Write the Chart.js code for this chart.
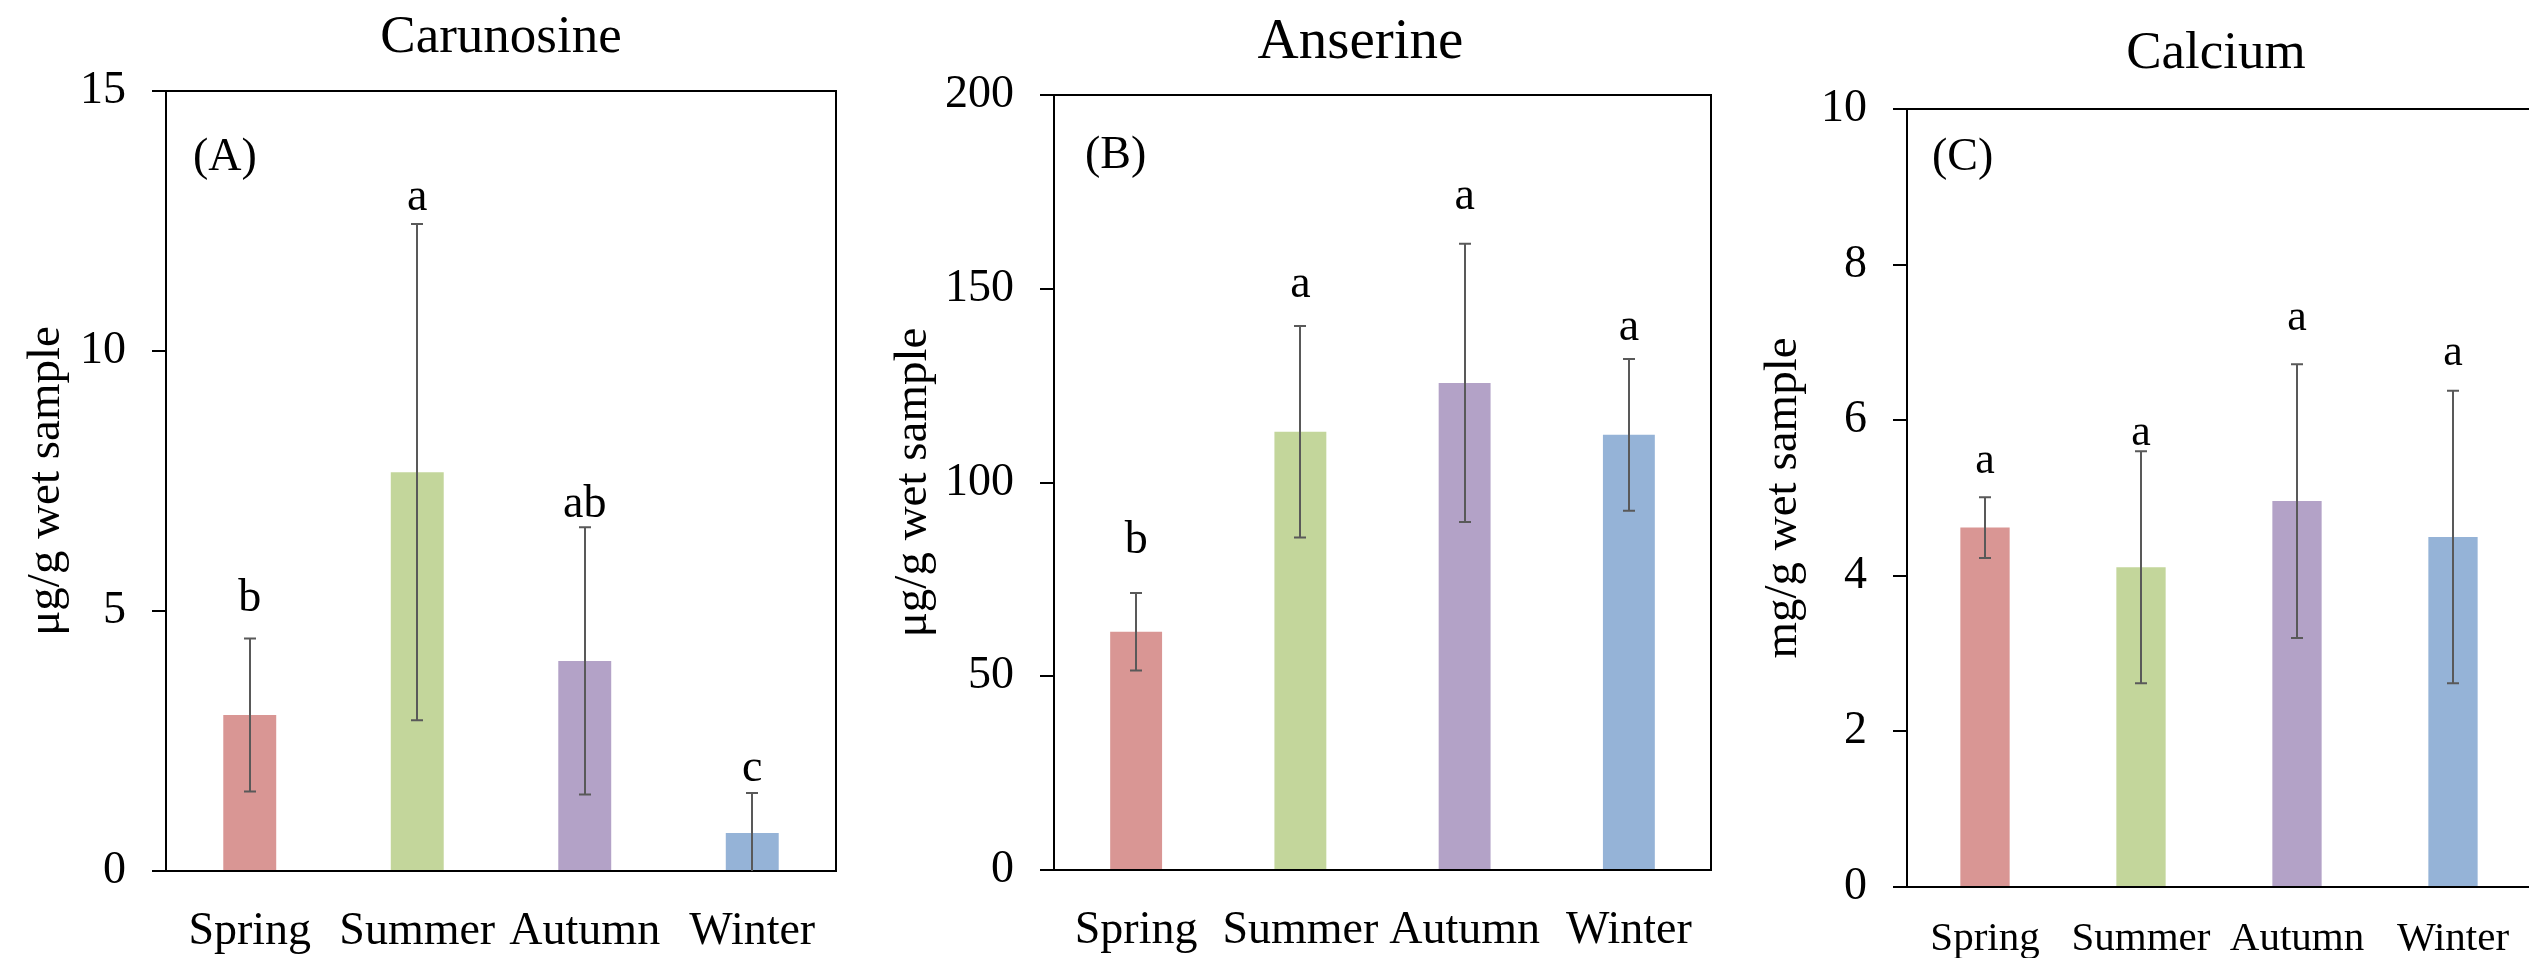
<!DOCTYPE html>
<html lang="en">
<head>
<meta charset="utf-8">
<title>Seasonal carnosine, anserine and calcium</title>
<style>
  html, body { margin: 0; padding: 0; background: #fff; overflow: hidden; }
  body { width: 2529px; height: 958px; position: relative; }
  canvas { position: absolute; top: 0; }
  #chartA { left: 0; }
  #chartB { left: 850px; }
  #chartC { left: 1730px; }
</style>
</head>
<body>
<canvas id="chartA" width="850" height="958"></canvas>
<canvas id="chartB" width="880" height="958"></canvas>
<canvas id="chartC" width="810" height="958"></canvas>

<script src="https://cdn.jsdelivr.net/npm/chart.js"></script>
<script>
// seasons and bar colours
const seasons = ["Spring", "Summer", "Autumn", "Winter"];
const seasonColors = ["#d99694", "#c3d69b", "#b3a2c7", "#95b3d7"];

// (A) carnosine, ug/g wet sample
const carnosineMean = [3.0, 7.67, 4.04, 0.73];
const carnosineSd = [1.47, 4.77, 2.57, 0.77];
const carnosineLetters = ["b", "a", "ab", "c"];
const carnosineTicks = [0, 5, 10, 15];

// (B) anserine, ug/g wet sample
const anserineMean = [61.5, 113.1, 125.7, 112.3];
const anserineSd = [10.0, 27.3, 35.9, 19.6];
const anserineLetters = ["b", "a", "a", "a"];
const anserineTicks = [0, 50, 100, 150, 200];

// (C) calcium, mg/g wet sample
const calciumMean = [4.62, 4.11, 4.96, 4.50];
const calciumSd = [0.39, 1.49, 1.76, 1.88];
const calciumLetters = ["a", "a", "a", "a"];
const calciumTicks = [0, 2, 4, 6, 8, 10];

const serif = "'Liberation Serif', 'Times New Roman', serif";
Chart.defaults.font.family = serif;
Chart.defaults.color = "#000";

function drawPanel(canvasId, p) {
  // error bars, letters, box frame, title and panel tag
  const extras = {
    id: "extras",
    afterDatasetsDraw(chart) {
      const { ctx } = chart;
      const y = chart.scales.y;
      const bars = chart.getDatasetMeta(0).data;
      ctx.save();
      ctx.strokeStyle = "#595959";
      ctx.lineWidth = 2;
      bars.forEach((bar, i) => {
        const hi = p.means[i] + p.sds[i];
        const lo = Math.max(p.means[i] - p.sds[i], y.min);
        const yHi = y.getPixelForValue(hi);
        const yLo = y.getPixelForValue(lo);
        const x = Math.round(bar.x);
        ctx.beginPath();
        ctx.moveTo(x, yHi);
        ctx.lineTo(x, yLo);
        ctx.moveTo(x - 6, yHi);
        ctx.lineTo(x + 6, yHi);
        if (lo > y.min) {
          ctx.moveTo(x - 6, yLo);
          ctx.lineTo(x + 6, yLo);
        }
        ctx.stroke();
      });

      ctx.fillStyle = "#000";
      ctx.font = p.letterSize + "px " + serif;
      ctx.textAlign = "center";
      ctx.textBaseline = "alphabetic";
      bars.forEach((bar, i) => {
        const yHi = y.getPixelForValue(p.means[i] + p.sds[i]);
        ctx.fillText(p.letters[i], bar.x, yHi - p.letterGap[i]);
      });
      ctx.restore();
    },
    afterDraw(chart) {
      const { ctx, chartArea: a } = chart;
      ctx.save();
      ctx.strokeStyle = "#000";
      ctx.lineWidth = 2;
      ctx.beginPath();
      ctx.moveTo(a.left, a.top);
      ctx.lineTo(a.right, a.top);
      ctx.lineTo(a.right, a.bottom);
      ctx.stroke();

      ctx.fillStyle = "#000";
      ctx.textBaseline = "alphabetic";
      ctx.textAlign = "center";
      ctx.font = p.titleSize + "px " + serif;
      ctx.fillText(p.title, (a.left + a.right) / 2 + p.titleDx, p.titleBaseline);

      ctx.textAlign = "left";
      ctx.font = "46px " + serif;
      ctx.fillText(p.tag, a.left + p.tagDx, a.top + p.tagDy);
      ctx.restore();
    }
  };

  return new Chart(document.getElementById(canvasId), {
    type: "bar",
    data: {
      labels: seasons,
      datasets: [{
        data: p.means,
        backgroundColor: seasonColors,
        borderWidth: 0,
        categoryPercentage: 1,
        barPercentage: 0.316
      }]
    },
    options: {
      responsive: false,
      animation: false,
      layout: { padding: p.padding },
      plugins: {
        legend: { display: false },
        tooltip: { enabled: false }
      },
      scales: {
        x: {
          z: 1,
          grid: { display: false, drawTicks: false },
          border: { display: true, color: "#000", width: 2 },
          ticks: {
            color: "#000",
            font: { family: serif, size: p.xSize },
            padding: p.xPad,
            maxRotation: 0,
            autoSkip: false
          },
          afterFit(scale) { scale.height = p.xHeight; }
        },
        y: {
          z: 1,
          min: p.ticks[0],
          max: p.ticks[p.ticks.length - 1],
          afterBuildTicks(scale) {
            scale.ticks = p.ticks.map(v => ({ value: v }));
          },
          grid: {
            drawOnChartArea: false,
            drawTicks: true,
            tickLength: 14,
            color: "#000",
            lineWidth: 2
          },
          border: { display: true, color: "#000", width: 2 },
          ticks: { color: "#000", font: { family: serif, size: 46 }, padding: 26 },
          title: {
            display: true,
            text: p.yTitle,
            color: "#000",
            font: { family: serif, size: 47 },
            padding: { top: p.yTitlePad, bottom: 0 }
          },
          afterFit(scale) { scale.width = p.yWidth; }
        }
      }
    },
    plugins: [extras]
  });
}

drawPanel("chartA", {
  means: carnosineMean, sds: carnosineSd, letters: carnosineLetters, ticks: carnosineTicks,
  title: "Carunosine", tag: "(A)", yTitle: "μg/g wet sample",
  padding: { top: 91, right: 14, bottom: 0, left: 0 },
  yWidth: 166, xHeight: 87, xSize: 46, xPad: 33, yTitlePad: 18,
  titleSize: 53, titleBaseline: 52, titleDx: 0, tagDx: 27, tagDy: 79,
  letterSize: 46, letterGap: [28, 14, 10, 12]
});

drawPanel("chartB", {
  means: anserineMean, sds: anserineSd, letters: anserineLetters, ticks: anserineTicks,
  title: "Anserine", tag: "(B)", yTitle: "μg/g wet sample",
  padding: { top: 95, right: 19, bottom: 0, left: 0 },
  yWidth: 204, xHeight: 88, xSize: 46, xPad: 33, yTitlePad: 35,
  titleSize: 57, titleBaseline: 58, titleDx: -22, tagDx: 31, tagDy: 73,
  letterSize: 46, letterGap: [40, 29, 35, 19]
});

drawPanel("chartC", {
  means: calciumMean, sds: calciumSd, letters: calciumLetters, ticks: calciumTicks,
  title: "Calcium", tag: "(C)", yTitle: "mg/g wet sample",
  padding: { top: 109, right: 9, bottom: 0, left: 0 },
  yWidth: 177, xHeight: 71, xSize: 41, xPad: 28, yTitlePad: 25,
  titleSize: 53, titleBaseline: 68, titleDx: -3, tagDx: 25, tagDy: 61,
  letterSize: 44, letterGap: [24, 6, 34, 26]
});
</script>
</body>
</html>
